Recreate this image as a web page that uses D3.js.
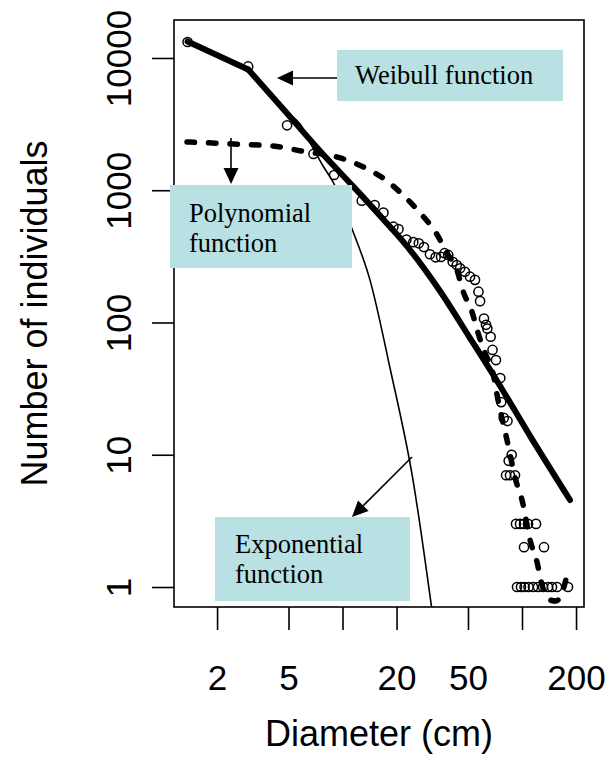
<!DOCTYPE html>
<html>
<head>
<meta charset="utf-8">
<script src="https://cdn.jsdelivr.net/npm/d3@7"></script>
<style>
  html, body { margin: 0; padding: 0; background: #ffffff; }
  svg { display: block; }
</style>
</head>
<body>
<svg id="chart" width="610" height="781"></svg>
<script>
// ---------------- DATA ----------------
// Observed diameter classes (cm) and number of individuals
const obsDiameter = [1.37, 2.98, 4.91, 6.89, 8.97, 12.8, 15.1, 16.9, 19.2, 20.5,
  22.7, 24.8, 26.6, 28.4, 30.7, 33.0, 35.4, 37.0, 38.8, 41.1,
  43.3, 45.2, 48.1, 51.3, 54.7, 57.2, 58.4, 61.4, 63.0, 64.1,
  66.9, 68.5, 71.6, 75.7, 76.6, 79.1, 83.0, 87.6, 84.3,
  81.5, 85.7, 91.4,
  92.6, 97.5, 102.6, 108.0, 119.7,
  102.6, 132.6,
  93.8, 98.7, 103.3, 108.7, 115.2, 122.8, 130.9, 139.6, 146.9, 156.7, 180.4];
const obsCount = [13210, 8625, 3098, 1880, 1304, 834, 773, 677, 530, 508,
  423, 405, 397, 372, 328, 311, 313, 334, 324, 288,
  272, 257, 242, 222, 210, 171, 145, 107, 96, 90,
  78, 62, 52, 38, 25, 19, 18, 10, 9,
  7, 7, 7,
  3, 3, 3, 3, 3,
  2, 2,
  1, 1, 1, 1, 1, 1, 1, 1, 1, 1, 1];

// Weibull function (thick solid line)
const weibullDiameter = [1.37, 2.98, 4.78, 7.49, 11.0, 16.8, 23.8, 34.9, 51.3, 72.6, 110.8, 185.1];
const weibullCount    = [13330, 8185, 3973, 1982, 1135, 606, 353, 173, 76.3, 36.1, 13.9, 4.55];

// Polynomial function (thick dashed line)
const polyDiameter = [1.36, 2.46, 4.32, 5.87, 9.94, 13.4, 16.8, 22.3, 27.7, 33.2, 38.2, 43.4,
  46.9, 52.7, 56.9, 62.2, 68.9, 72.6, 82.5, 92.6, 100, 110.8, 121.2, 129.3, 143.2, 154.7, 167.1, 178.1];
const polyCount = [2317, 2237, 2142, 1981, 1738, 1474, 1238, 889, 650, 475, 335, 249,
  173, 120, 83.3, 58.8, 41.5, 28.3, 12.9, 6.33, 4.55, 2.27, 1.545, 1.035, 0.798, 0.784, 0.901, 1.232];

// Exponential function (thin solid line; its upper part lies under the Weibull line)
const expDiameter = [2.98, 4.78, 5.80, 6.85, 7.79, 8.85, 11.3, 14.23, 18.39, 24.7, 31.5];
const expCount    = [8185, 3973, 3170, 2086, 1525, 1155, 509, 209, 45.3, 6.44, 0.67];

// Axis ticks
const xTicks = [2, 5, 10, 20, 50, 100, 200];
const xTickLabels = ["2", "5", "", "20", "50", "", "200"];
const yTicks = [1, 10, 100, 1000, 10000];
const yTickLabels = ["1", "10", "100", "1000", "10000"];

const xTitle = "Diameter (cm)";
const yTitle = "Number of individuals";

// Annotations
const annWeibull = ["Weibull function"];
const annPoly = ["Polynomial", "function"];
const annExp = ["Exponential", "function"];

// ---------------- LAYOUT ----------------
const plot = { left: 174, right: 584, top: 20, bottom: 607 };
const sans = "'Liberation Sans', Arial, Helvetica, sans-serif";
const serif = "'Liberation Serif', 'Times New Roman', Times, serif";
const boxFill = "#b9e0e2";

const svg = d3.select("#chart");

const x = d3.scaleLog().domain([1.151, 221.5]).range([plot.left, plot.right]);
const y = d3.scaleLog().domain([0.706, 19370]).range([plot.bottom, plot.top]);

svg.append("defs").append("clipPath").attr("id", "clip")
  .append("rect")
  .attr("x", plot.left).attr("y", plot.top)
  .attr("width", plot.right - plot.left).attr("height", plot.bottom - plot.top);

// ---------------- AXES ----------------
const xAxis = svg.append("g")
  .attr("transform", `translate(0,${plot.bottom})`)
  .call(d3.axisBottom(x).tickValues(xTicks).tickFormat((d, i) => xTickLabels[i]).tickSize(23).tickSizeOuter(0));
xAxis.select(".domain").remove();
xAxis.selectAll("line").attr("stroke", "#000").attr("stroke-width", 1.6);
xAxis.selectAll("text")
  .attr("y", 83).attr("dy", 0)
  .attr("fill", "#000")
  .style("font-family", sans).style("font-size", "35px");

const yAxis = svg.append("g")
  .attr("transform", `translate(${plot.left},0)`)
  .call(d3.axisLeft(y).tickValues(yTicks).tickFormat((d, i) => yTickLabels[i]).tickSize(22).tickSizeOuter(0));
yAxis.select(".domain").remove();
yAxis.selectAll("line").attr("stroke", "#000").attr("stroke-width", 1.6);
yAxis.selectAll("text")
  .attr("dy", 0)
  .attr("text-anchor", "middle")
  .attr("fill", "#000")
  .style("font-family", sans).style("font-size", "35px")
  .attr("x", 0).attr("y", 0)
  .attr("transform", "translate(-43,0) rotate(-90)");

// Plot box
svg.append("rect")
  .attr("x", plot.left).attr("y", plot.top)
  .attr("width", plot.right - plot.left).attr("height", plot.bottom - plot.top)
  .attr("fill", "none").attr("stroke", "#000").attr("stroke-width", 1.6);

// Axis titles
svg.append("text")
  .attr("x", (plot.left + plot.right) / 2).attr("y", 746)
  .attr("text-anchor", "middle")
  .style("font-family", sans).style("font-size", "36px")
  .text(xTitle);
svg.append("text")
  .attr("transform", `translate(47,${(plot.top + plot.bottom) / 2}) rotate(-90)`)
  .attr("text-anchor", "middle")
  .style("font-family", sans).style("font-size", "36px")
  .text(yTitle);

// ---------------- MARKS ----------------
const g = svg.append("g").attr("clip-path", "url(#clip)");

const obs = obsDiameter.map((d, i) => ({ d, n: obsCount[i] }));
g.selectAll("circle.obs").data(obs).enter().append("circle")
  .attr("class", "obs")
  .attr("cx", p => x(p.d)).attr("cy", p => y(p.n)).attr("r", 4.6)
  .attr("fill", "none").attr("stroke", "#000").attr("stroke-width", 1.5);

const lineLinear = d3.line().x(p => x(p.d)).y(p => y(p.n)).curve(d3.curveLinear);
const lineSmooth = d3.line().x(p => x(p.d)).y(p => y(p.n)).curve(d3.curveMonotoneX);

const polyPts = polyDiameter.map((d, i) => ({ d, n: polyCount[i] }));
g.append("path").datum(polyPts)
  .attr("d", lineSmooth)
  .attr("fill", "none").attr("stroke", "#000")
  .attr("stroke-width", 5.5).attr("stroke-linecap", "round")
  .attr("stroke-dasharray", "7.5,14");

const expPts = expDiameter.map((d, i) => ({ d, n: expCount[i] }));
g.append("path").datum(expPts)
  .attr("d", lineSmooth)
  .attr("fill", "none").attr("stroke", "#000").attr("stroke-width", 1.6);

const weiPts = weibullDiameter.map((d, i) => ({ d, n: weibullCount[i] }));
// first segment straight (sharp kink at the 2nd class), rest smooth
g.append("path").datum(weiPts.slice(0, 2))
  .attr("d", lineLinear)
  .attr("fill", "none").attr("stroke", "#000")
  .attr("stroke-width", 6).attr("stroke-linecap", "round");
g.append("path").datum(weiPts.slice(1))
  .attr("d", lineSmooth)
  .attr("fill", "none").attr("stroke", "#000")
  .attr("stroke-width", 6).attr("stroke-linejoin", "round").attr("stroke-linecap", "round");

// ---------------- ANNOTATIONS ----------------
function arrow(x1, y1, x2, y2) {
  const len = 16, half = 7.5;
  const ang = Math.atan2(y2 - y1, x2 - x1);
  const bx = x2 - len * Math.cos(ang), by = y2 - len * Math.sin(ang);
  svg.append("line")
    .attr("x1", x1).attr("y1", y1).attr("x2", bx).attr("y2", by)
    .attr("stroke", "#000").attr("stroke-width", 1.6);
  const px = -Math.sin(ang) * half, py = Math.cos(ang) * half;
  svg.append("polygon")
    .attr("points", `${x2},${y2} ${bx + px},${by + py} ${bx - px},${by - py}`)
    .attr("fill", "#000");
}

function box(x0, y0, w, h, lines, tx, ty, lh) {
  svg.append("rect").attr("x", x0).attr("y", y0).attr("width", w).attr("height", h)
    .attr("fill", boxFill);
  lines.forEach((t, i) => {
    svg.append("text").attr("x", tx).attr("y", ty + i * lh)
      .style("font-family", serif).style("font-size", "26.5px").attr("fill", "#000")
      .text(t);
  });
}

box(337, 50, 226, 51, annWeibull, 355, 84, 30);
arrow(337, 78, 277, 78);

box(170, 185, 182, 83, annPoly, 189, 222, 30);
arrow(231, 138, 231, 184);

box(215, 517, 195, 84, annExp, 235, 553, 30);
arrow(412, 457, 352, 517);
</script>
</body>
</html>
